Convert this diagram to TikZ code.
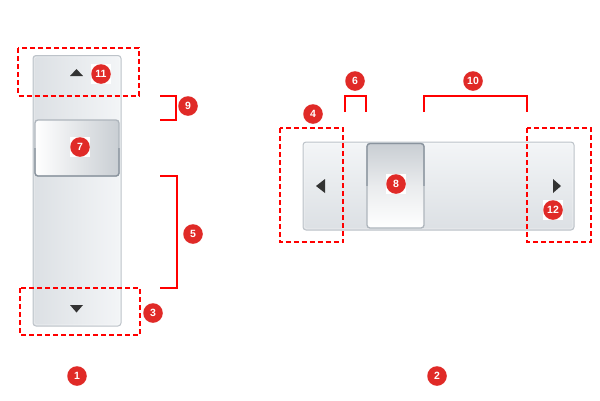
\documentclass[tikz,border=0pt]{standalone}
\usepackage{fontspec}
\setmainfont{Liberation Sans}
\definecolor{badgered}{HTML}{E02A27}
\definecolor{dashred}{HTML}{FF0000}
\definecolor{trackborder}{HTML}{BDC3C9}
\definecolor{trackdark}{HTML}{DCE0E4}
\definecolor{tracklight}{HTML}{F3F5F7}
\definecolor{thumbgray}{HTML}{C9CED3}
\definecolor{thumbdark}{HTML}{8A949E}
\definecolor{thumblight}{HTML}{AEB5BC}
\definecolor{arrowgray}{HTML}{333333}
\begin{document}
\begin{tikzpicture}[x=1pt,y=-1pt,
  badge/.style={rectangle, fill=white, minimum size=19.5pt, inner sep=0pt,
    text=white, font=\bfseries\fontsize{10.5}{10.5}\selectfont,
    path picture={\fill[badgered] (path picture bounding box.center) circle (9.8pt);}},
  dashbox/.style={draw=dashred, line width=2pt, dash pattern=on 5pt off 3pt},
  bracketline/.style={draw=dashred, line width=2pt},
  trackv/.style={draw=trackborder, line width=1pt, rounded corners=3pt, left color=trackdark, right color=tracklight},
  trackh/.style={draw=trackborder, line width=1pt, rounded corners=3pt, top color=tracklight, bottom color=trackdark},
  glyph/.style={fill=arrowgray}
]
\useasboundingbox (0,0) rectangle (600,400);

% vertical scrollbar
\path[trackv] (33,55.5) rectangle (121,326);
\draw[white, opacity=0.6, rounded corners=2pt] (34.5,57) rectangle (119.5,324.5);
% thumb 7
\path[left color=white, right color=thumbgray, rounded corners=3pt] (35,120) rectangle (119,176);
\draw[thumblight, line width=1.3pt, rounded corners=3pt] (35,120) rectangle (119,176);
\begin{scope}
  \clip (0,148) rectangle (600,400);
  \draw[thumbdark, line width=1.3pt, rounded corners=3pt] (35,120) rectangle (119,176);
\end{scope}
\fill[glyph] (70,76) -- (83,76) -- (76.5,69) -- cycle;
\fill[glyph] (70,305) -- (83,305) -- (76.5,312.5) -- cycle;

% horizontal scrollbar
\path[trackh] (303,142) rectangle (574,230);
\draw[white, opacity=0.6, rounded corners=2pt] (304.5,143.5) rectangle (572.5,228.5);
% thumb 8
\path[top color=thumbgray, bottom color=white, middle color=white!60!thumbgray, rounded corners=3pt] (367,143.5) rectangle (424,228);
\draw[thumblight, line width=1.3pt, rounded corners=3pt] (367,143.5) rectangle (424,228);
\begin{scope}
  \clip (0,0) rectangle (600,185);
  \draw[thumbdark, line width=1.3pt, rounded corners=3pt] (367,143.5) rectangle (424,228);
\end{scope}
\fill[glyph] (316,186) -- (325,179) -- (325,193) -- cycle;
\fill[glyph] (561,186) -- (553,179) -- (553,193) -- cycle;

% dashed boxes
\draw[dashbox] (18,48) rectangle (139,95.5);
\draw[dashbox] (20,288) rectangle (140,335);
\draw[dashbox] (279.5,128) rectangle (343,242);
\draw[dashbox] (527,128) rectangle (591,242);

% brackets
\draw[bracketline] (160,96) -- (175.5,96) -- (175.5,120) -- (160,120);
\draw[bracketline] (160,176) -- (177,176) -- (177,288) -- (160,288);
\draw[bracketline] (344.5,112) -- (344.5,96) -- (366,96) -- (366,112);
\draw[bracketline] (424,112) -- (424,96) -- (527,96) -- (527,112);

% badges
\node[badge] (b11) at (101,74) {11};
\node[badge] (b9) at (188,106) {9};
\node[badge] (b7) at (80,147) {7};
\node[badge] (b5) at (193,234) {5};
\node[badge] (b3) at (153,313) {3};
\node[badge] (b1) at (77,376) {1};
\node[badge] (b2) at (437,376) {2};
\node[badge] (b4) at (313,114) {4};
\node[badge] (b6) at (355,81) {6};
\node[badge] (b10) at (473,81) {10};
\node[badge] (b8) at (396,184) {8};
\node[badge] (b12) at (553,210) {12};
\end{tikzpicture}
\end{document}
